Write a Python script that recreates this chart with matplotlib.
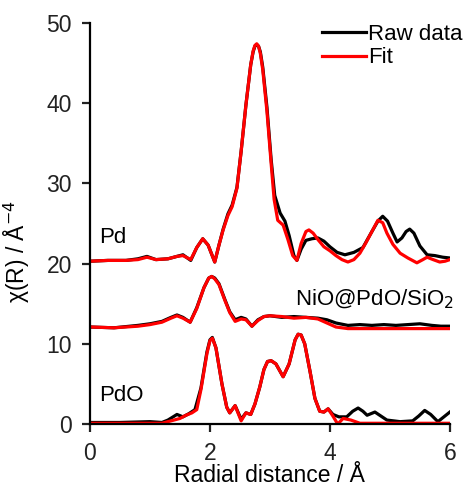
import matplotlib.pyplot as plt

plt.rcParams['font.family'] = ['Liberation Sans', 'DejaVu Sans']

# Pd reference: raw data and fit
pd_raw_r = [0, 0.3, 0.6, 0.8, 0.95, 1.1, 1.3, 1.45, 1.55, 1.68, 1.78, 1.88, 1.97, 2.08, 2.15,
            2.22, 2.3, 2.37, 2.45, 2.52, 2.6, 2.68, 2.72, 2.75, 2.78, 2.81, 2.84, 2.88, 2.95, 3.02, 3.08,
            3.17, 3.25, 3.32, 3.4, 3.45, 3.52, 3.6, 3.7, 3.8, 3.9, 4.0, 4.12, 4.25, 4.4, 4.55,
            4.7, 4.8, 4.88, 4.96, 5.05, 5.12, 5.2, 5.27, 5.33, 5.4, 5.5, 5.62, 5.75, 5.88, 6.0]
pd_raw = [20.3, 20.4, 20.4, 20.6, 20.9, 20.5, 20.6, 20.9, 21.1, 20.4, 22.0, 23.1, 22.3, 20.2, 22.3,
          24.3, 26.2, 27.3, 29.5, 34.0, 39.8, 44.8, 46.4, 47.1, 47.3, 47.1, 46.4, 44.5, 39.5, 33.0, 28.5,
          26.3, 25.3, 23.5, 21.0, 20.4, 21.8, 22.9, 23.1, 23.2, 22.8, 22.1, 21.4, 21.1, 21.4, 22.0,
          24.0, 25.3, 25.9, 25.3, 23.8, 22.7, 23.2, 24.0, 24.3, 23.8, 22.2, 21.1, 21.0, 20.8, 20.7]
pd_fit_r = [0, 0.3, 0.6, 0.8, 0.95, 1.1, 1.3, 1.45, 1.55, 1.68, 1.78, 1.88, 1.97, 2.08, 2.15,
            2.22, 2.3, 2.37, 2.45, 2.52, 2.6, 2.68, 2.72, 2.75, 2.78, 2.81, 2.84, 2.88, 2.95, 3.02, 3.07,
            3.13, 3.22, 3.3, 3.38, 3.45, 3.52, 3.6, 3.65, 3.72, 3.8, 3.9, 4.0, 4.1, 4.2, 4.3, 4.4,
            4.5, 4.6, 4.7, 4.8, 4.88, 4.95, 5.05, 5.17, 5.3, 5.45, 5.55, 5.62, 5.72, 5.83, 5.92, 6.0]
pd_fit = [20.3, 20.4, 20.4, 20.5, 20.8, 20.5, 20.6, 20.9, 21.0, 20.5, 22.0, 23.1, 22.3, 20.2, 22.3,
          24.2, 26.0, 27.1, 29.4, 34.0, 39.8, 44.8, 46.5, 47.2, 47.4, 47.1, 46.2, 44.2, 39.0, 32.5, 28.0,
          25.4, 24.8, 23.0, 21.0, 20.4, 22.5, 24.0, 24.2, 23.8, 23.0, 22.1, 21.6, 21.0, 20.5, 20.2, 20.5,
          21.3, 22.6, 24.0, 25.4, 25.1, 23.8, 22.4, 21.3, 20.7, 20.1, 20.5, 20.8, 20.5, 20.2, 20.3, 20.5]

# NiO@PdO/SiO2 sample
nio_raw_r = [0, 0.4, 0.8, 1.0, 1.2, 1.35, 1.45, 1.55, 1.67, 1.78, 1.9, 1.98, 2.03, 2.08, 2.15, 2.25, 2.33,
             2.42, 2.52, 2.6, 2.7, 2.8, 2.9, 3.0, 3.2, 3.4, 3.6, 3.8, 3.95, 4.1, 4.3, 4.5, 4.7,
             4.9, 5.1, 5.3, 5.5, 5.7, 5.85, 6.0]
nio_raw = [12.1, 12.0, 12.3, 12.5, 12.8, 13.3, 13.6, 13.3, 12.7, 14.5, 17.0, 18.2, 18.4, 18.2, 17.5, 15.5, 14.0,
           13.0, 13.3, 13.1, 12.2, 13.0, 13.4, 13.5, 13.3, 13.4, 13.3, 13.2, 13.0, 12.6, 12.3, 12.4, 12.3,
           12.4, 12.3, 12.4, 12.5, 12.3, 12.2, 12.2]
nio_fit_r = [0, 0.4, 0.8, 1.0, 1.2, 1.35, 1.45, 1.55, 1.67, 1.78, 1.9, 1.98, 2.03, 2.08, 2.15, 2.25, 2.33,
             2.42, 2.52, 2.6, 2.7, 2.8, 2.9, 3.0, 3.2, 3.4, 3.6, 3.8, 3.95, 4.1, 4.3, 4.6, 5.0,
             5.5, 6.0]
nio_fit = [12.1, 12.0, 12.2, 12.4, 12.7, 13.2, 13.5, 13.2, 12.7, 14.4, 17.0, 18.2, 18.4, 18.1, 17.4, 15.4, 13.9,
           12.8, 13.1, 13.0, 12.2, 12.9, 13.4, 13.5, 13.4, 13.2, 13.3, 13.1, 12.6, 12.1, 11.9, 11.9, 11.9,
           11.9, 11.9]

# PdO reference
pdo_raw_r = [0, 0.5, 1.0, 1.2, 1.3, 1.45, 1.55, 1.65, 1.75, 1.85, 1.95, 2.0, 2.04, 2.1, 2.2, 2.28,
             2.33, 2.42, 2.52, 2.6, 2.68, 2.75, 2.83, 2.9, 2.96, 3.02, 3.1, 3.22, 3.32, 3.42, 3.47, 3.52, 3.58,
             3.67, 3.75, 3.83, 3.9, 3.97, 4.05, 4.15, 4.28, 4.38, 4.47, 4.55, 4.62, 4.75, 4.85,
             4.95, 5.17, 5.38, 5.48, 5.58, 5.68, 5.8, 5.9, 6.0]
pdo_raw = [0.2, 0.2, 0.3, 0.2, 0.5, 1.2, 0.9, 1.3, 1.8, 4.5, 9.0, 10.5, 10.8, 9.5, 5.0, 2.1,
           1.4, 2.3, 0.6, 1.4, 1.2, 2.5, 4.6, 6.8, 7.8, 7.9, 7.5, 5.9, 7.5, 10.5, 11.2, 11.1, 10.0,
           6.5, 3.2, 1.6, 1.5, 1.9, 1.2, 0.9, 0.9, 1.6, 2.0, 1.6, 1.1, 1.5, 1.0,
           0.5, 0.3, 0.4, 1.0, 1.7, 1.2, 0.3, 0.9, 1.5]
pdo_fit_r = [0, 0.5, 1.0, 1.2, 1.35, 1.5, 1.6, 1.7, 1.78, 1.85, 1.95, 2.0, 2.04, 2.1, 2.2, 2.28,
             2.33, 2.42, 2.52, 2.6, 2.68, 2.75, 2.83, 2.9, 2.96, 3.02, 3.1, 3.22, 3.32, 3.42, 3.47, 3.52, 3.58,
             3.67, 3.75, 3.83, 3.9, 3.97, 4.05, 4.13, 4.22, 4.35, 4.5, 5.0, 5.5, 6.0]
pdo_fit = [0.1, 0.1, 0.1, 0.1, 0.4, 0.7, 1.1, 1.4, 1.8, 4.3, 8.8, 10.4, 10.7, 9.5, 5.0, 2.1,
           1.4, 2.3, 0.4, 1.4, 1.2, 2.5, 4.6, 6.8, 7.8, 7.9, 7.5, 5.9, 7.5, 10.5, 11.2, 11.1, 10.0,
           6.5, 3.2, 1.6, 1.5, 1.9, 1.0, 0.0, 0.7, 0.5, 0.1, 0.1, 0.1, 0.1]

fig = plt.figure(figsize=(4.65, 4.88), dpi=100)
ax = fig.add_axes([0.1935, 0.131, 0.774, 0.822])

lw = 2.3
ax.plot(pd_raw_r, pd_raw, color='black', lw=lw, label='Raw data')
ax.plot(pd_fit_r, pd_fit, color='#ff0000', lw=lw, label='Fit')
ax.plot(nio_raw_r, nio_raw, color='black', lw=lw)
ax.plot(nio_fit_r, nio_fit, color='#ff0000', lw=lw)
ax.plot(pdo_raw_r, pdo_raw, color='black', lw=lw)
ax.plot(pdo_fit_r, pdo_fit, color='#ff0000', lw=lw)

ax.set_xlim(0, 6)
ax.set_ylim(0, 50)
ax.set_xticks([0, 2, 4, 6])
ax.set_yticks([0, 10, 20, 30, 40, 50])
ax.spines['top'].set_visible(False)
ax.spines['right'].set_visible(False)
ax.spines['left'].set_linewidth(1.6)
ax.spines['bottom'].set_linewidth(1.6)
ax.tick_params(direction='out', length=6, width=1.6, labelsize=16.5, colors='#222222', pad=7)

ax.set_xlabel('Radial distance / Å', fontsize=16.5, labelpad=-1)
ax.set_ylabel('χ(R) / Å$^{-4}$', fontsize=16.5)
ax.yaxis.set_label_coords(-0.16, 0.43)

fs = 16
ax.text(0.15, 23.3, 'Pd', fontsize=fs, va='center', ha='left')
ax.text(6.07, 15.6, 'NiO@PdO/SiO$_2$', fontsize=fs, va='center', ha='right')
ax.text(0.15, 3.6, 'PdO', fontsize=fs, va='center', ha='left')

ax.legend(loc='upper right', bbox_to_anchor=(1.0, 0.955), bbox_transform=fig.transFigure,
          frameon=False, fontsize=16, handlelength=2.0, handletextpad=0.1,
          labelspacing=0.1, borderaxespad=0.0, borderpad=0.1)

fig.savefig('out.png', dpi=100)
